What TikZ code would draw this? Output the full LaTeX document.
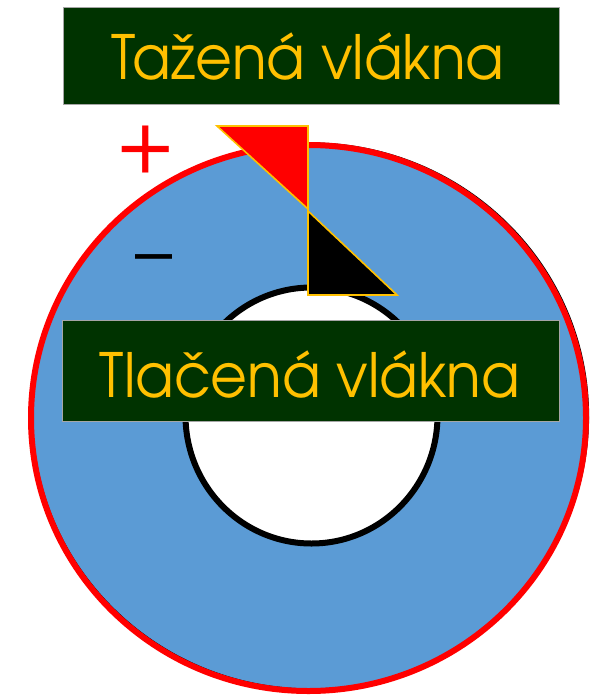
\documentclass[tikz,border=0pt]{standalone}
\usepackage{fontspec}
\setmainfont{TeX Gyre Adventor}
\newfontfamily\labelfont{TeX Gyre Adventor}[FakeStretch=0.93]
\definecolor{ringblue}{HTML}{5B9BD5}
\definecolor{boxgreen}{HTML}{003300}
\definecolor{gold}{HTML}{FFC000}
\definecolor{pured}{HTML}{FF0000}
\begin{document}
\begin{tikzpicture}[x=1pt,y=-1pt,
  labelbox/.style={fill=boxgreen,draw=gray!70,line width=0.8pt,inner sep=0pt},
  labeltext/.style={text=gold,font=\labelfont\fontsize{61}{61}\selectfont,anchor=base,inner sep=0pt},
  tri/.style={draw=gold,line width=1.6pt,line join=miter}]
\useasboundingbox (0,0) rectangle (603,695);
% ring
\fill[ringblue] (308.5,418) ellipse [x radius=278,y radius=273];
\draw[black,line width=1.2pt] (310.5,416) ellipse [x radius=278,y radius=273];
\draw[pured,line width=6pt] (308.5,418) ellipse [x radius=277.5,y radius=273];
\draw[black,fill=white,line width=6pt] (311.5,415.5) ellipse [x radius=126,y radius=128];
% stress triangles
\draw[tri,fill=pured] (217,126) -- (308,126) -- (308,209) -- cycle;
\draw[tri,fill=black] (308,211) -- (308,295) -- (397,295) -- cycle;
% labels
\node[labelbox,minimum width=496pt,minimum height=97pt] (top) at (311,55.5) {};
\node[labeltext] (toptext) at (308,80) {Tažená vlákna};
\node[labelbox,minimum width=497pt,minimum height=101pt] (bot) at (310.5,370.5) {};
\node[labeltext] (bottext) at (310,397) {Tlačená vlákna};
% signs
\node[text=pured,font=\fontsize{84}{84}\selectfont,inner sep=0pt] (plus) at (146,150) {+};
\node[text=black,font=\fontsize{74}{74}\selectfont,inner sep=0pt] (minus) at (153.5,265.5) {–};
\end{tikzpicture}
\end{document}
